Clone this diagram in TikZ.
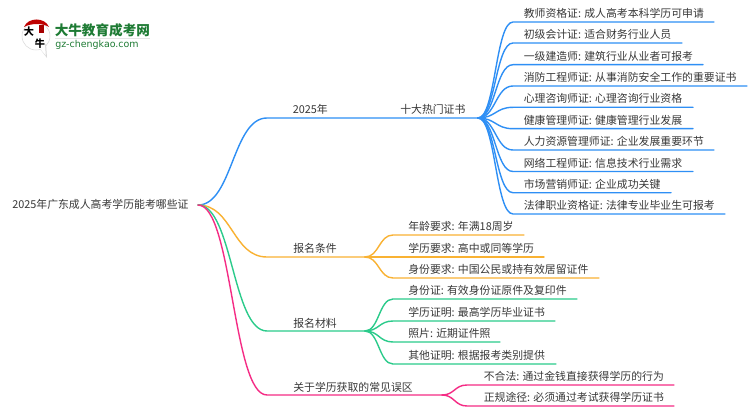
\documentclass[tikz,border=0pt]{standalone}
\usepackage{fontspec}
\setmainfont{Noto Sans CJK SC}
\newfontfamily\latinlogo{DejaVu Sans}
\definecolor{cblue}{HTML}{2E8FF5}
\definecolor{corange}{HTML}{F9B233}
\definecolor{cgreen}{HTML}{2BCB8B}
\definecolor{cpink}{HTML}{F52C85}
\definecolor{ctext}{HTML}{383838}
\definecolor{lgreen}{HTML}{1E7B34}
\tikzset{
  lab/.style={inner sep=0pt,anchor=base west,text=ctext,font=\fontsize{8.15pt}{10pt}\selectfont},
  conn/.style={line width=1.05pt,line cap=round},
}
\newcommand{\twig}[4]{%
  \draw[conn,#1] (#2) .. controls ($(#2)!0.5!(#2 -| #3)$) and ($(#3)!0.5!(#3 -| #2)$) .. (#3) -- (#4);}
\usetikzlibrary{calc}
\begin{document}
\begin{tikzpicture}[x=0.75pt,y=-0.75pt]
\useasboundingbox (0,0) rectangle (750,410);
\fill[white] (0,0) rectangle (750,410);
% logo
\begin{scope}
\fill[white,draw=black!15,line width=0.4pt] (36,36) circle (14);
\fill[black!15] (40,49) -- (47,58) -- (46,44) -- cycle;
\fill[white] (39.5,48) -- (45.8,55.5) -- (45,44) -- cycle;
\fill[red!75!black] (24,27) .. controls (28,17) and (45,17) .. (49,27) .. controls (43,23) and (31,23) .. (24,27) -- cycle;
\fill[red!65!black] (39,25) rectangle (44,33);
\end{scope}
\node[inner sep=0pt,font=\fontsize{7.6pt}{8pt}\selectfont\bfseries,text=black] (logoa) at (29,32) {大};
\node[inner sep=0pt,font=\fontsize{7.6pt}{8pt}\selectfont\bfseries,text=black] (logob) at (40,44) {牛};
\node[inner sep=0pt,anchor=west,font=\fontsize{10.2pt}{11pt}\selectfont\bfseries,text=lgreen] (logoc) at (54.5,30) {大牛教育成考网};
\node[inner sep=0pt,anchor=west,font=\fontsize{7.1pt}{9pt}\latinlogo,text=lgreen] (logod) at (55,45) {gz-chengkao.com};
\fill[black!10] (55,38.5) rectangle (150,39.5);
% root
\node[lab,anchor=west] (root) at (12,204.5) {2025年广东成人高考学历能考哪些证};
\coordinate (o) at (198,205);
% mains
\node[lab] (n1) at (292.5,113.5) {2025年};
\node[lab] (n1b) at (400,113.5) {十大热门证书};
\node[lab] (n2) at (293,252.5) {报名条件};
\node[lab] (n3) at (293,327) {报名材料};
\node[lab] (n4) at (293,391) {关于学历获取的常见误区};
\coordinate (a1) at (267,118); \coordinate (b1) at (478,118);
\coordinate (a2) at (267,257); \coordinate (b2) at (365,257);
\coordinate (a3) at (267,331); \coordinate (b3) at (365,331);
\coordinate (a4) at (267,395); \coordinate (b4) at (442,395);
\twig{cblue}{o}{a1}{b1}
\twig{corange}{o}{a2}{b2}
\twig{cgreen}{o}{a3}{b3}
\twig{cpink}{o}{a4}{b4}
% leaves
\foreach \nm/\tx/\y/\xe/\col/\src/\xs/\xt in {
 l1/教师资格证: 成人高考本科学历可申请/22/714/cblue/b1/513/523.5,
 l2/初级会计证: 适合财务行业人员/43/682/cblue/b1/513/523.5,
 l3/一级建造师: 建筑行业从业者可报考/64.7/703/cblue/b1/513/523.5,
 l4/消防工程师证: 从事消防安全工作的重要证书/86/747/cblue/b1/513/523.5,
 l5/心理咨询师证: 心理咨询行业资格/107.3/693/cblue/b1/513/523.5,
 l6/健康管理师证: 健康管理行业发展/128.7/693/cblue/b1/513/523.5,
 l7/人力资源管理师证: 企业发展重要环节/150/714/cblue/b1/513/523.5,
 l8/网络工程师证: 信息技术行业需求/171.5/693/cblue/b1/513/523.5,
 l9/市场营销师证: 企业成功关键/192.7/671/cblue/b1/513/523.5,
 l10/法律职业资格证: 法律专业毕业生可报考/214/725/cblue/b1/513/523.5,
 m1/年龄要求: 年满18周岁/235/524/corange/b2/393/408,
 m2/学历要求: 高中或同等学历/257/544/corange/b2/393/408,
 m3/身份要求: 中国公民或持有效居留证件/278/599/corange/b2/393/408,
 p1/身份证: 有效身份证原件及复印件/299/577/cgreen/b3/393/408,
 p2/学历证明: 最高学历毕业证书/321/555/cgreen/b3/393/408,
 p3/照片: 近期证件照/342/500/cgreen/b3/393/408,
 p4/其他证明: 根据报考类别提供/364/556/cgreen/b3/393/408,
 q1/不合法: 通过金钱直接获得学历的行为/385/674/cpink/b4/467/483.5,
 q2/正规途径: 必须通过考试获得学历证书/406/674/cpink/b4/467/483.5}{
  \node[lab] (\nm) at (\xt,\y-4.5) {\tx};
  \coordinate (\nm s) at (\xs,\y);
  \coordinate (\nm e) at (\xe,\y);
  \twig{\col}{\src}{\nm s}{\nm e}
}
\end{tikzpicture}
\end{document}
